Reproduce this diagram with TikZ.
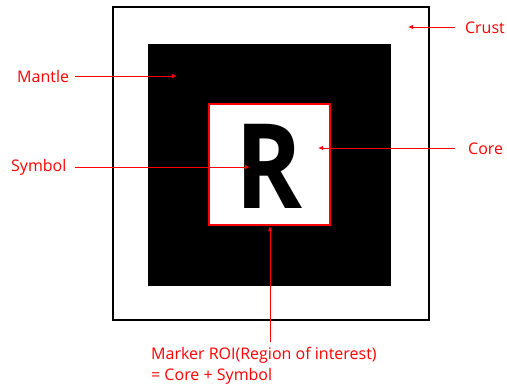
\documentclass[tikz,border=0pt]{standalone}
\usepackage{fontspec}
\setmainfont{Open Sans}
\usetikzlibrary{arrows.meta}
\begin{document}
\begin{tikzpicture}[x=1pt,y=-1pt,
  lbl/.style={text=red,font=\fontsize{16}{21}\selectfont,inner sep=0pt},
  ptr/.style={red,line width=1pt,-{Latex[length=5pt,width=4.5pt]}}]
  \useasboundingbox (0,0) rectangle (507,391);
  % crust, mantle and core
  \draw[line width=2pt] (113,7) rectangle (429,320);
  \fill (148,44) rectangle (391,286);
  \draw[red,line width=2pt,fill=white] (209,104) rectangle (330,225);
  \node[font=\bfseries\fontsize{118}{118}\selectfont,xscale=0.86,inner sep=0pt] (sym) at (269,166) {R};
  % labels
  \node[lbl,anchor=east] (crust) at (505,28) {Crust};
  \node[lbl,anchor=west] (mantle) at (17,76) {Mantle};
  \node[lbl,anchor=west] (core) at (468,149) {Core};
  \node[lbl,anchor=west] (symbol) at (11,167) {Symbol};
  \node[lbl,anchor=north west,align=left] (roi) at (151,347) {Marker ROI(Region of interest)\\= Core + Symbol};
  \coordinate (crustpt) at (408,27);
  \coordinate (mantlept) at (177,76);
  \coordinate (corept) at (318,148);
  \coordinate (sympt) at (250,167);
  \coordinate (roipt) at (270,226);
  \coordinate (roifoot) at (270,342);
  % pointers
  \draw[ptr] (455,27) -- (crustpt);
  \draw[ptr] (mantle.east) ++(6,0) -- (mantlept);
  \draw[ptr] (455,148) -- (corept);
  \draw[ptr] (symbol.east) ++(8,0) -- (sympt);
  \draw[ptr] (roifoot) -- (roipt);
\end{tikzpicture}
\end{document}
